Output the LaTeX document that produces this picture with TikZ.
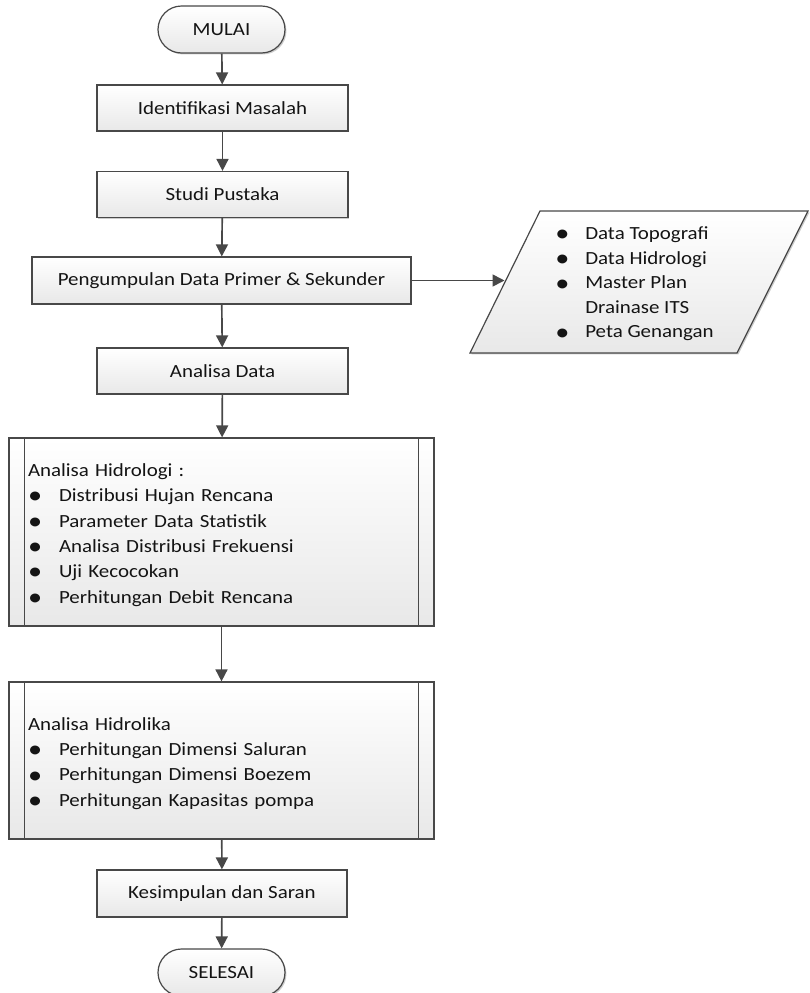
\documentclass[tikz,border=0pt]{standalone}
\usepackage{fontspec}
\setmainfont{Carlito}[FakeStretch=1.13]
\usetikzlibrary{arrows.meta,shapes.misc,shadows}
\newlength\pu \setlength\pu{0.75pt}
\definecolor{edge}{HTML}{484848}
\newcommand\bigbul{\raisebox{-0.25ex}{\scalebox{1.35}{\textbullet}}}
\newcommand\bul{\makebox[31\pu][l]{\bigbul}}
\newcommand\bulp{\makebox[30\pu][l]{\bigbul}}
\tikzset{
 boxbase/.style={draw=edge, line width=0.9pt, top color=white, bottom color=black!9,
   drop shadow={shadow xshift=1.1pt, shadow yshift=-1.1pt, opacity=0.4, fill=black!50},
   font=\fontsize{13.9pt}{19pt}\selectfont, inner sep=0pt, text=black!92},
 procbox/.style={boxbase, rectangle, minimum height=34.5pt},
 termbox/.style={boxbase, rounded rectangle, minimum width=95.25pt, minimum height=35.25pt},
 predef/.style={boxbase, rectangle, minimum width=318.75pt, text width=290.25pt, align=left},
 flow/.style={draw=edge, line width=1.25pt, -{Triangle[length=9pt,width=9pt]}},
 innerline/.style={draw=edge, line width=0.9pt},
}
\begin{document}
\begin{tikzpicture}[x=0.75pt,y=-0.75pt]
\useasboundingbox (0,0) rectangle (810,993);
\node[termbox] (start) at (221.5,29.5) {MULAI};
\node[procbox, minimum width=188.25pt] (p1) at (222.5,108) {Identifikasi Masalah};
\node[procbox, minimum width=188.25pt] (p2) at (222.5,194.5) {Studi Pustaka};
\node[procbox, minimum width=284.25pt, minimum height=35.25pt] (p3) at (221.5,280.5) {Pengumpulan Data Primer \& Sekunder};
\node[procbox, minimum width=188.25pt] (p4) at (222.5,371) {Analisa Data};
\node[predef, minimum height=141pt] (p5) at (221.5,532) {\rule{0pt}{14pt}Analisa Hidrologi :\\
\bul Distribusi Hujan Rencana\\
\bul Parameter Data Statistik\\
\bul Analisa Distribusi Frekuensi\\
\bul Uji Kecocokan\\
\bul Perhitungan Debit Rencana};
\draw[innerline] ([xshift=12pt]p5.north west) -- ([xshift=12pt]p5.south west);
\draw[innerline] ([xshift=-12pt]p5.north east) -- ([xshift=-12pt]p5.south east);
\node[predef, minimum height=117.75pt] (p6) at (221.5,760.5) {\rule{0pt}{14pt}Analisa Hidrolika\\
\bul Perhitungan Dimensi Saluran\\
\bul Perhitungan Dimensi Boezem\\
\bul Perhitungan Kapasitas pompa};
\draw[innerline] ([xshift=12pt]p6.north west) -- ([xshift=12pt]p6.south west);
\draw[innerline] ([xshift=-12pt]p6.north east) -- ([xshift=-12pt]p6.south east);
\node[procbox, minimum width=187.5pt, minimum height=35.25pt] (p7) at (222,893.5) {Kesimpulan dan Saran};
\node[termbox] (stop) at (221.5,972.5) {SELESAI};
% data parallelogram
\path[boxbase] (540,211) -- (808,211) -- (737,353) -- (470,353) -- cycle;
\node[anchor=west, align=left, inner sep=0pt, font=\fontsize{13.9pt}{18.4pt}\selectfont, text=black!92] (data) at (555,284)
{\bulp Data Topografi\\ \bulp Data Hidrologi\\ \bulp Master Plan\\ \hspace*{22.5pt}Drainase ITS\\ \bulp Peta Genangan};
\coordinate (dataIn) at (504.5,280.5);
% connectors
\draw[flow] (start) -- (p1);
\draw[flow] (p1) -- (p2);
\draw[flow] (p2) -- (p3);
\draw[flow] (p3) -- (p4);
\draw[flow] (p4) -- (p5);
\draw[flow] (p5) -- (p6);
\draw[flow] (p6) -- (p7);
\draw[flow] (p7) -- (stop);
\draw[flow] (p3.east) -- (dataIn);
\end{tikzpicture}
\end{document}
